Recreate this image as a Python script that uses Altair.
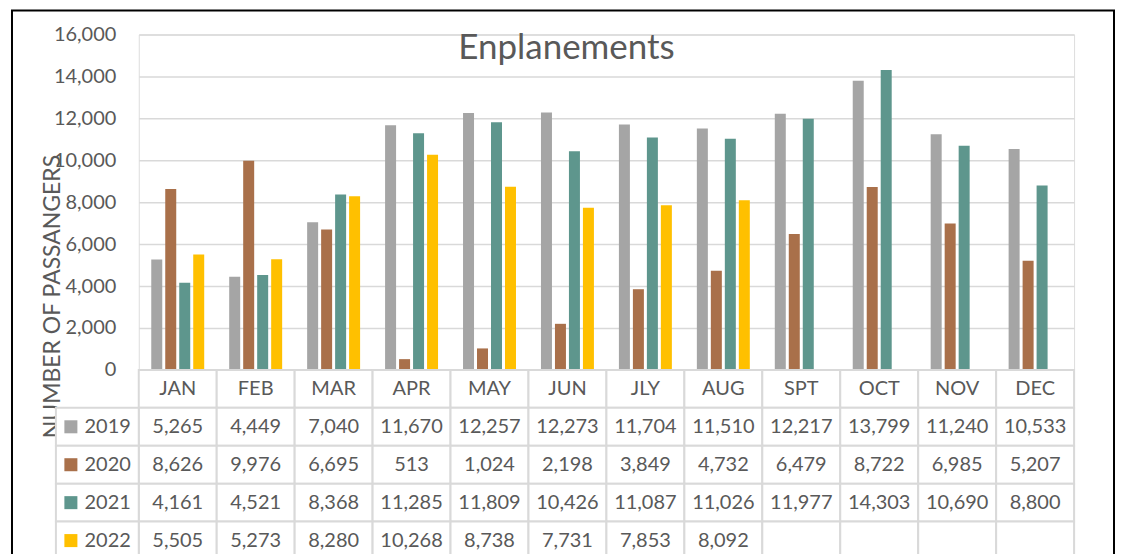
import altair as alt
import pandas as pd

months = ["JAN", "FEB", "MAR", "APR", "MAY", "JUN", "JLY", "AUG", "SPT", "OCT", "NOV", "DEC"]
years = ["2019", "2020", "2021", "2022"]
v2019 = [5265, 4449, 7040, 11670, 12257, 12273, 11704, 11510, 12217, 13799, 11240, 10533]
v2020 = [8626, 9976, 6695, 513, 1024, 2198, 3849, 4732, 6479, 8722, 6985, 5207]
v2021 = [4161, 4521, 8368, 11285, 11809, 10426, 11087, 11026, 11977, 14303, 10690, 8800]
v2022 = [5505, 5273, 8280, 10268, 8738, 7731, 7853, 8092, None, None, None, None]
colors = ["#A5A5A5", "#A9704A", "#5E968D", "#FFC000"]
y_ticks = [0, 2000, 4000, 6000, 8000, 10000, 12000, 14000, 16000]

FONT = "Lato"
TXT = "#595959"
GRID = "#D9D9D9"

series = {"2019": v2019, "2020": v2020, "2021": v2021, "2022": v2022}
rows = []
for y in years:
    for m, v in zip(months, series[y]):
        rows.append({"year": y, "month": m, "value": v})
df = pd.DataFrame(rows)
df_valid = df[df["value"].notna()].copy()

row_domain = ["hdr"] + years

xenc = alt.X("month:N", sort=months,
             scale=alt.Scale(domain=months, paddingInner=0, paddingOuter=0), axis=None)
color_scale = alt.Scale(domain=years, range=colors)

# ---------- bar chart ----------
bars = alt.Chart(df_valid).mark_bar().encode(
    x=xenc,
    xOffset=alt.XOffset("year:N", scale=alt.Scale(domain=years, paddingInner=0.214, paddingOuter=0.893)),
    y=alt.Y("value:Q",
            scale=alt.Scale(domain=[0, 16000], nice=False),
            axis=alt.Axis(values=y_ticks, format=",.0f", grid=True, gridColor=GRID, gridWidth=1.5,
                          domain=False, ticks=False, tickSize=0, labelPadding=23,
                          labelFont=FONT, labelFontSize=20, labelColor=TXT,
                          title="NUMBER OF PASSANGERS", titleFont=FONT, titleFontSize=23,
                          titleFontWeight="normal", titleColor=TXT, titleAngle=270,
                          titleX=-86, titleY=262, titleAlign="center", titleBaseline="middle")),
    color=alt.Color("year:N", scale=color_scale, legend=None),
)

top = alt.layer(bars).properties(
    width=937, height=336,
    title=alt.TitleParams(text="Enplanements", font=FONT, fontSize=35, fontWeight="normal",
                          color=TXT, anchor="middle", dx=-40, offset=-42),
)

# ---------- data table ----------
yenc = alt.Y("row:N", scale=alt.Scale(domain=row_domain, paddingInner=0, paddingOuter=0), axis=None)

cells = pd.DataFrame([{"row": r, "month": m} for r in row_domain for m in months])
hdr = pd.DataFrame({"row": ["hdr"] * len(months), "month": months})
vals = df_valid.rename(columns={"year": "row"})
leg = pd.DataFrame({"row": years})

cell_layer = alt.Chart(cells).mark_rect(fill="white", stroke=GRID, strokeWidth=2).encode(x=xenc, y=yenc)
leg_cells = alt.Chart(leg).mark_rect(fill="white", stroke=GRID, strokeWidth=2).encode(
    x=alt.value(-83), x2=alt.value(0), y=yenc)
hdr_text = alt.Chart(hdr).mark_text(font=FONT, fontSize=20, color=TXT).encode(
    x=xenc, y=yenc, text="month:N")
val_text = alt.Chart(vals).mark_text(font=FONT, fontSize=20, color=TXT).encode(
    x=xenc, y=yenc, text=alt.Text("value:Q", format=","))
leg_text = alt.Chart(leg).mark_text(font=FONT, fontSize=20, color=TXT, align="right").encode(
    x=alt.value(-8), y=yenc, text="row:N")
leg_sw = alt.Chart(leg).mark_square(size=170, opacity=1).encode(
    x=alt.value(-68), y=yenc, color=alt.Color("row:N", scale=color_scale, legend=None))
frame = alt.Chart(pd.DataFrame({"f": [0]})).mark_rect(fillOpacity=0, stroke="black", strokeWidth=2).encode(
    x=alt.value(-127), x2=alt.value(977), y=alt.value(-360), y2=alt.value(240))

bottom = alt.layer(cell_layer, leg_cells, hdr_text, val_text, leg_text, leg_sw, frame).properties(
    width=937, height=190)

chart = alt.vconcat(top, bottom, spacing=0, bounds="flush").properties(
    padding={"left": 2, "top": 0, "right": 0, "bottom": 0}
).configure_view(strokeWidth=0).configure(background="white")

chart.save("out.html", embed_options={"renderer": "svg", "actions": False})
